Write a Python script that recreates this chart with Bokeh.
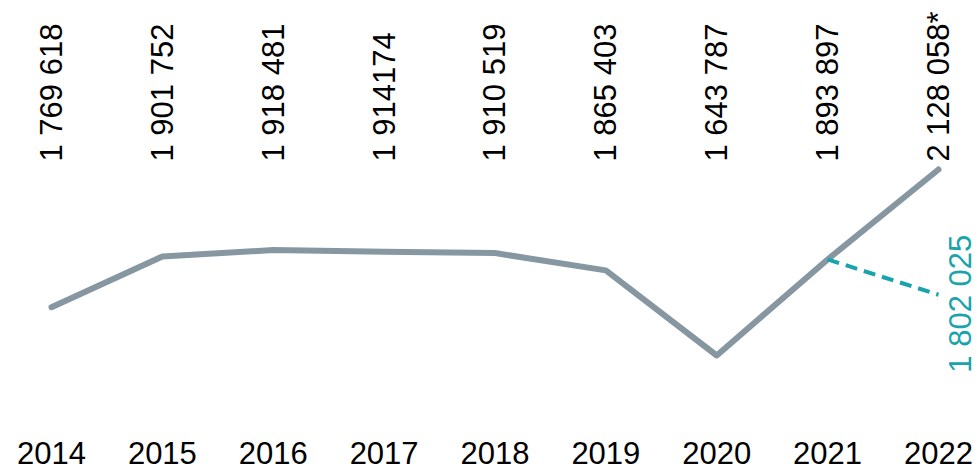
import math
from bokeh.plotting import figure
from bokeh.models import ColumnDataSource, Range1d, FixedTicker
from bokeh.core.properties import value
from bokeh.embed import file_html
from bokeh.resources import INLINE

# ---- data ----
years = [2014, 2015, 2016, 2017, 2018, 2019, 2020, 2021, 2022]
totals = [1769618, 1901752, 1918481, 1914174, 1910519, 1865403, 1643787, 1893897, 2128058]
total_labels = ["1 769 618", "1 901 752", "1 918 481", "1 914174", "1 910 519",
                "1 865 403", "1 643 787", "1 893 897", "2 128 058*"]
alt_years = [2021, 2022]
alt_values = [1893897, 1802025]
alt_label = "1 802 025"

FONT = "Liberation Sans"
GREY = "#8797A2"
TEAL = "#19A3AC"

p = figure(width=979, height=470, output_backend="svg", toolbar_location=None,
           x_range=Range1d(2013.540, 2022.370), y_range=Range1d(1495349, 2568266),
           y_axis_location=None, min_border_left=0, min_border_right=0,
           min_border_top=0, min_border_bottom=58)
p.outline_line_color = None
p.xgrid.grid_line_color = None
p.ygrid.grid_line_color = None
p.background_fill_color = "white"
p.border_fill_color = "white"

src = ColumnDataSource(dict(x=years, y=totals))
p.line("x", "y", source=src, line_color=GREY, line_width=6, line_join="round", line_cap="round")

alt = ColumnDataSource(dict(x=alt_years, y=alt_values))
p.line("x", "y", source=alt, line_color=TEAL, line_width=4, line_dash="12 7")

LABEL_Y = 2148995
lab_src = ColumnDataSource(dict(x=years, y=[LABEL_Y] * len(years), lab=total_labels))
p.text("x", "y", text="lab", source=lab_src, angle=math.pi / 2,
       text_align="left", text_baseline="middle",
       text_font=value(FONT), text_font_size="31px", text_color="black")

alt_src = ColumnDataSource(dict(x=[alt_years[-1]], y=[alt_values[-1]], lab=[alt_label]))
p.text("x", "y", text="lab", source=alt_src, angle=math.pi / 2, x_offset=22, y_offset=9,
       text_align="center", text_baseline="middle",
       text_font=value(FONT), text_font_size="31px", text_color=TEAL)

ax = p.xaxis[0]
ax.ticker = FixedTicker(ticks=years)
ax.major_label_overrides = {y: str(y) for y in years}
ax.axis_line_color = None
ax.major_tick_line_color = None
ax.minor_tick_line_color = None
ax.major_tick_out = 0
ax.major_tick_in = 0
ax.major_label_standoff = 29
ax.major_label_text_font = FONT
ax.major_label_text_font_size = "31px"
ax.major_label_text_color = "black"

open("out.html", "w").write(file_html(p, INLINE))
